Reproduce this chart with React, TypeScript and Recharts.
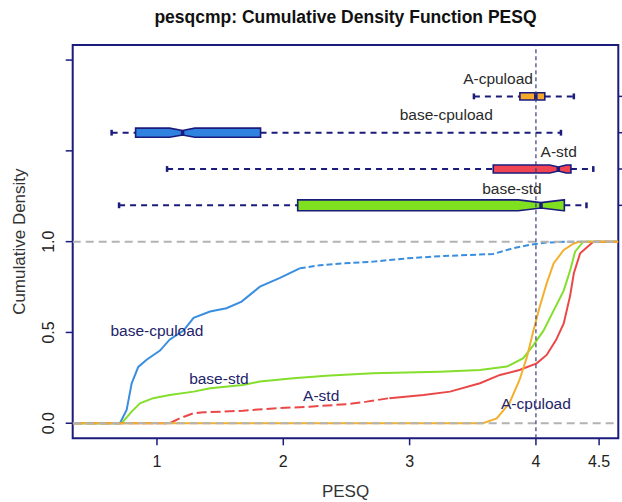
import React from "react";
import {
  ComposedChart,
  Line,
  XAxis,
  YAxis,
  ReferenceLine,
  ReferenceArea,
  ReferenceDot,
} from "recharts";

// R-style ECDF + notched boxplot comparison of PESQ scores.

const NAVY = "#1b1b7c";
const FONT = "'Liberation Sans', Arial, Helvetica, sans-serif";

const X_DOMAIN: [number, number] = [0.333, 4.652];
const Y_DOMAIN: [number, number] = [-0.083, 2.083];
const xTicks = [1, 2, 3, 4, 4.5];
const yTicks = [0, 0.5, 1, 1.5, 2];
const yTickLabels: Record<string, string> = { "0": "0.0", "0.5": "0.5", "1": "1.0" };
const boxRowTicks = [1.2, 1.4, 1.6, 1.8];

// ECDF points [PESQ, cumulative density]
const baseCpuloadCdf = [
  [0.333, 0], [0.707, 0], [0.76, 0.073], [0.8, 0.22], [0.852, 0.31], [0.918, 0.35],
  [1.024, 0.4], [1.1, 0.46], [1.21, 0.51], [1.29, 0.58], [1.42, 0.615], [1.55, 0.633],
  [1.67, 0.67], [1.815, 0.752], [1.974, 0.8], [2.13, 0.853], [2.29, 0.87], [2.475, 0.88],
  [2.71, 0.89], [2.98, 0.908], [3.24, 0.92], [3.66, 0.932], [3.82, 0.964], [3.95, 0.982],
  [4.08, 0.995], [4.27, 1], [4.652, 1],
];
const baseStdCdf = [
  [0.333, 0], [0.72, 0], [0.8, 0.064], [0.865, 0.11], [0.97, 0.138], [1.1, 0.156],
  [1.29, 0.174], [1.42, 0.193], [1.68, 0.21], [1.815, 0.23], [2.08, 0.248], [2.34, 0.262],
  [2.71, 0.275], [3.24, 0.284], [3.557, 0.293], [3.77, 0.312], [3.9, 0.358], [3.98, 0.43],
  [4.06, 0.51], [4.14, 0.62], [4.22, 0.73], [4.27, 0.84], [4.31, 0.945], [4.375, 1], [4.652, 1],
];
const aStdCdf = [
  [0.333, 0], [1.1, 0], [1.18, 0.027], [1.29, 0.055], [1.37, 0.06], [1.68, 0.069],
  [1.95, 0.083], [2.21, 0.091], [2.5, 0.105], [2.66, 0.119], [2.84, 0.138], [3.11, 0.156],
  [3.32, 0.174], [3.557, 0.22], [3.715, 0.266], [3.87, 0.293], [4.006, 0.33], [4.085, 0.376],
  [4.16, 0.459], [4.22, 0.55], [4.27, 0.7], [4.3, 0.826], [4.35, 0.936], [4.454, 1], [4.652, 1],
];
const aCpuloadCdf = [
  [0.333, 0], [3.58, 0], [3.69, 0.027], [3.79, 0.11], [3.87, 0.238], [3.93, 0.367],
  [3.98, 0.51], [4.03, 0.642], [4.085, 0.77], [4.14, 0.88], [4.22, 0.954], [4.3, 0.99],
  [4.35, 1], [4.652, 1],
];

// where the sparse (gappy) part of each ECDF is drawn dashed
type CdfSeries = {
  name: string;
  pts: number[][];
  color: string;
  dashLeftOf?: number;
  dashRightOf?: number;
  dash?: string;
};
const cdfSeries: CdfSeries[] = [
  { name: "base-cpuload", pts: baseCpuloadCdf, color: "#3a8ee0", dashRightOf: 2.13, dash: "6 3" },
  { name: "base-std", pts: baseStdCdf, color: "#84de2c" },
  { name: "A-std", pts: aStdCdf, color: "#ea4848", dashLeftOf: 2.84, dash: "10 4" },
  { name: "A-cpuload", pts: aCpuloadCdf, color: "#f3b02e" },
];

// CDF curve labels [x, y]
const cdfLabels: { text: string; at: [number, number] }[] = [
  { text: "base-cpuload", at: [1.0, 0.508] },
  { text: "base-std", at: [1.49, 0.248] },
  { text: "A-std", at: [2.3, 0.15] },
  { text: "A-cpuload", at: [4.0, 0.106] },
];

// boxplot rows: whisker lo, q1, notch lo, median, notch hi, q3, whisker hi
type BoxStat = {
  name: string;
  row: number;
  half: number;
  lo: number;
  q1: number;
  nLo?: number;
  med: number;
  nHi?: number;
  q3: number;
  hi: number;
  fill: string;
  label: [number, number];
};
const boxStats: BoxStat[] = [
  { name: "base-std", row: 1.2, half: 0.03, lo: 0.7, q1: 2.114, nLo: 3.86, med: 4.04, nHi: 4.22, q3: 4.225, hi: 4.4, fill: "#7ee01e", label: [3.81, 1.294] },
  { name: "A-std", row: 1.4, half: 0.022, lo: 1.08, q1: 3.662, nLo: 4.11, med: 4.177, nHi: 4.24, q3: 4.277, hi: 4.454, fill: "#f04452", label: [4.18, 1.496] },
  { name: "base-cpuload", row: 1.6, half: 0.025, lo: 0.641, q1: 0.831, nLo: 1.1, med: 1.203, nHi: 1.3, q3: 1.82, hi: 4.198, fill: "#2f82e0", label: [3.29, 1.7] },
  { name: "A-cpuload", row: 1.8, half: 0.02, lo: 3.509, q1: 3.873, med: 3.999, q3: 4.07, hi: 4.3, fill: "#f5a82a", label: [3.7, 1.9] },
];

const toPts = (pts: number[][]) => pts.map(([x, y]) => ({ x, y }));

function splitSeries(s: CdfSeries) {
  const all = s.pts;
  if (s.dashRightOf != null) {
    const cut = s.dashRightOf;
    return [
      { pts: all.filter((p) => p[0] <= cut), dashed: false },
      { pts: all.filter((p) => p[0] >= cut), dashed: true },
    ];
  }
  if (s.dashLeftOf != null) {
    const cut = s.dashLeftOf;
    return [
      { pts: all.filter((p) => p[0] <= cut), dashed: true },
      { pts: all.filter((p) => p[0] >= cut), dashed: false },
    ];
  }
  return [{ pts: all, dashed: false }];
}

function boxShape(b: BoxStat) {
  return (props: any) => {
    const { x, y, width, height } = props;
    const px = (v: number) => x + ((v - b.q1) / (b.q3 - b.q1)) * width;
    const top = y;
    const bot = y + height;
    const inset = b.nLo != null ? height / 4 : 0;
    const m = px(b.med);
    let pts: number[][];
    if (b.nLo != null && b.nHi != null) {
      const a = px(b.nLo);
      const c = px(b.nHi);
      pts = [
        [x, top], [a, top], [m, top + inset], [c, top], [x + width, top],
        [x + width, bot], [c, bot], [m, bot - inset], [a, bot], [x, bot],
      ];
    } else {
      pts = [[x, top], [x + width, top], [x + width, bot], [x, bot]];
    }
    return (
      <g>
        <polygon
          points={pts.map((p) => p.join(",")).join(" ")}
          fill={b.fill}
          stroke={NAVY}
          strokeWidth={1.6}
        />
        <line x1={m} x2={m} y1={top + inset} y2={bot - inset} stroke={NAVY} strokeWidth={3.5} />
      </g>
    );
  };
}

function YTick(props: any) {
  const { x, y, payload } = props;
  const label = yTickLabels[String(payload.value)];
  if (!label) return null;
  const cx = x - 16.7;
  return (
    <text
      x={cx}
      y={y}
      transform={`rotate(-90 ${cx} ${y})`}
      textAnchor="middle"
      dominantBaseline="central"
      fontSize={16}
      fontFamily={FONT}
      fill="#222"
    >
      {label}
    </text>
  );
}

function XTick(props: any) {
  const { x, y, payload } = props;
  return (
    <text
      x={x}
      y={y + 14}
      textAnchor="middle"
      dominantBaseline="central"
      fontSize={16}
      fontFamily={FONT}
      fill="#222"
    >
      {payload.value}
    </text>
  );
}

function textAt(text: string, color: string, size: number) {
  return (p: any) => (
    <text
      x={p.cx}
      y={p.cy}
      textAnchor="middle"
      dominantBaseline="central"
      fontSize={size}
      fontFamily={FONT}
      fill={color}
    >
      {text}
    </text>
  );
}

export default function App() {
  return (
    <div style={{ position: "absolute", left: 0, top: 0, width: 622, height: 502, background: "#fff" }}>
      <div
        style={{
          position: "absolute",
          left: 72.7,
          width: 545.6,
          top: 6,
          textAlign: "center",
          fontFamily: FONT,
          fontWeight: "bold",
          fontSize: 17.5,
          color: "#111",
          lineHeight: "22px",
        }}
      >
        pesqcmp: Cumulative Density Function PESQ
      </div>
      <ComposedChart
        width={622}
        height={502}
        margin={{ top: 45, right: 0, left: 12.7, bottom: 33.7 }}
      >
        <XAxis
          type="number"
          dataKey="x"
          domain={X_DOMAIN}
          allowDataOverflow
          ticks={xTicks}
          interval={0}
          axisLine={false}
          tickLine={{ stroke: NAVY, strokeWidth: 1.5 }}
          tickSize={7}
          tick={<XTick />}
          height={30}
          label={{
            content: (p: any) => (
              <text
                x={p.viewBox.x + p.viewBox.width / 2}
                y={p.viewBox.y + 53}
                textAnchor="middle"
                dominantBaseline="central"
                fontSize={17}
                fontFamily={FONT}
                fill="#333"
              >
                PESQ
              </text>
            ),
          }}
        />
        <YAxis
          type="number"
          domain={Y_DOMAIN}
          allowDataOverflow
          ticks={yTicks}
          interval={0}
          axisLine={false}
          tickLine={{ stroke: NAVY, strokeWidth: 1.5 }}
          tickSize={7}
          tickMargin={0}
          tick={<YTick />}
          width={60}
          label={{
            content: (p: any) => {
              const cy = p.viewBox.y + p.viewBox.height / 2;
              return (
                <text
                  x={20}
                  y={cy}
                  transform={`rotate(-90 20 ${cy})`}
                  textAnchor="middle"
                  dominantBaseline="central"
                  fontSize={17}
                  fontFamily={FONT}
                  fill="#333"
                >
                  Cumulative Density
                </text>
              );
            },
          }}
        />
        <YAxis
          yAxisId="right"
          orientation="right"
          type="number"
          domain={Y_DOMAIN}
          allowDataOverflow
          ticks={boxRowTicks}
          interval={0}
          axisLine={false}
          tickLine={{ stroke: NAVY, strokeWidth: 1.5 }}
          tickSize={7}
          tickFormatter={() => ""}
          width={3.7}
        />

        {cdfSeries.flatMap((s) =>
          splitSeries(s).map((part, i) => (
            <Line
              key={s.name + i}
              data={toPts(part.pts)}
              dataKey="y"
              type="linear"
              stroke={s.color}
              strokeWidth={2}
              strokeDasharray={part.dashed ? s.dash : undefined}
              dot={false}
              isAnimationActive={false}
            />
          ))
        )}

        <ReferenceLine y={0} stroke="#b3b3b3" strokeWidth={2} strokeDasharray="8 5" />
        <ReferenceLine y={1} stroke="#b3b3b3" strokeWidth={2} strokeDasharray="8 5" />
        <ReferenceLine x={4} stroke="#3c3c78" strokeWidth={1.2} strokeDasharray="4 3" />

        {boxStats.map((b) => (
          <ReferenceLine
            key={b.name + "wl"}
            segment={[{ x: b.lo, y: b.row }, { x: b.q1, y: b.row }]}
            stroke={NAVY}
            strokeWidth={2}
            strokeDasharray="6 5"
          />
        ))}
        {boxStats.map((b) => (
          <ReferenceLine
            key={b.name + "wh"}
            segment={[{ x: b.q3, y: b.row }, { x: b.hi, y: b.row }]}
            stroke={NAVY}
            strokeWidth={2}
            strokeDasharray="6 5"
          />
        ))}
        {boxStats.flatMap((b) =>
          [b.lo, b.hi].map((v, i) => (
            <ReferenceLine
              key={b.name + "st" + i}
              segment={[{ x: v, y: b.row - 0.016 }, { x: v, y: b.row + 0.016 }]}
              stroke={NAVY}
              strokeWidth={2.5}
            />
          ))
        )}
        {boxStats.map((b) => (
          <ReferenceArea
            key={b.name + "box"}
            x1={b.q1}
            x2={b.q3}
            y1={b.row - b.half}
            y2={b.row + b.half}
            shape={boxShape(b)}
          />
        ))}
        {boxStats.map((b) => (
          <ReferenceDot
            key={b.name + "lbl"}
            x={b.label[0]}
            y={b.label[1]}
            r={1}
            shape={textAt(b.name, "#2a2a2a", 15.5)}
          />
        ))}
        {cdfLabels.map((l) => (
          <ReferenceDot
            key={l.text + "cdf"}
            x={l.at[0]}
            y={l.at[1]}
            r={1}
            shape={textAt(l.text, "#23236a", 15.5)}
          />
        ))}

        <ReferenceArea
          x1={X_DOMAIN[0]}
          x2={X_DOMAIN[1]}
          y1={Y_DOMAIN[0]}
          y2={Y_DOMAIN[1]}
          fill="none"
          fillOpacity={0}
          stroke={NAVY}
          strokeWidth={2}
        />
      </ComposedChart>
    </div>
  );
}
